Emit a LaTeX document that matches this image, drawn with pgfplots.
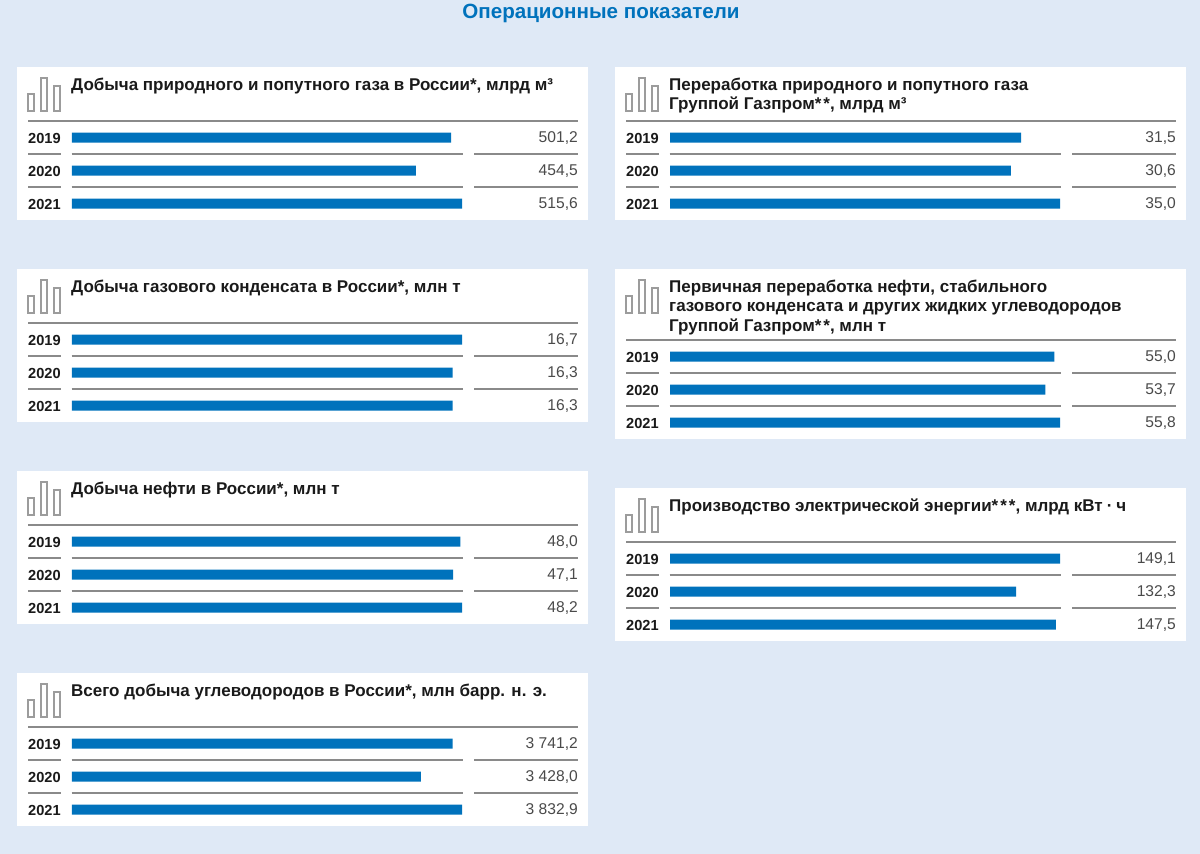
\documentclass[border=0pt]{standalone}
\usepackage{fontspec}
\setmainfont{Liberation Sans}
\usepackage{pgfplots}
\pgfplotsset{compat=1.18}

\definecolor{pagebg}{HTML}{DFE9F6}
\definecolor{barblue}{HTML}{0072BC}
\definecolor{rulegray}{HTML}{8A8A8A}
\definecolor{headtext}{HTML}{1A1A1A}
\definecolor{valtext}{HTML}{4A4A4A}

\newcommand{\valnum}[1]{\pgfmathprintnumber[fixed, fixed zerofill, precision=1, use comma,
  1000 sep={\ }, assume math mode=true]{#1}}
\tikzset{valnode/.style={anchor=east, inner sep=0pt, yshift=-1pt, text=valtext, font=\fontsize{15.6}{16}\selectfont}}

% #1 panel left, #2 panel top, #3 extra height of the title block, #4 title, #5-#7 values 2019-2021
\newcommand{\panel}[7]{%
  \pgfmathsetmacro{\vmax}{max(#5,#6,#7)}%
  \pgfmathsetmacro{\rt}{#2+54+#3}%
  \fill[white] (#1,#2) rectangle ++(571,153+#3);
  % icon
  \begin{scope}[shift={(#1,#2)}, draw=rulegray!85, line width=1.1pt]
    \draw (11,27) rectangle (17,44);
    \draw (24,11) rectangle (30,44);
    \draw (37,19) rectangle (43,44);
  \end{scope}
  \node[anchor=north west, align=left, inner sep=0pt, text=headtext,
        font=\fontsize{17}{19.8}\selectfont\bfseries] at (#1+54,#2+10.5) {#4};
  % rules between the rows
  \begin{scope}[rulegray, line width=1.1pt]
    \draw (#1+11,\rt) -- ++(550,0);
    \foreach \k in {33,66}{
      \draw (#1+11,\rt+\k) -- ++(33,0);
      \draw (#1+54.5,\rt+\k) -- ++(391.5,0);
      \draw (#1+457,\rt+\k) -- ++(104,0);
    }
  \end{scope}
  \coordinate (corner) at (#1+55,\rt);
  \begin{axis}[
      at={(corner)}, anchor=north west,
      scale only axis, width=390pt, height=99pt,
      xbar, bar width=10pt, bar shift=0pt,
      xmin=0, xmax=\vmax,
      ymin=-0.5, ymax=2.5, y dir=reverse,
      clip=false,
      axis line style={draw=none},
      tick style={draw=none}, major tick length=0pt,
      xtick=\empty,
      ytick={0,1,2}, yticklabels={2019,2020,2021},
      yticklabel style={anchor=west, xshift=-44pt, yshift=-0.7pt, inner sep=0pt, text=headtext,
        font=\fontsize{14.6}{14}\selectfont\bfseries},
    ]
    \addplot[fill=barblue, draw=none] coordinates {(#5,0) (#6,1) (#7,2)};
    \node[valnode] at (rel axis cs:1.2974,0.8333) {\valnum{#5}};
    \node[valnode] at (rel axis cs:1.2974,0.5) {\valnum{#6}};
    \node[valnode] at (rel axis cs:1.2974,0.1667) {\valnum{#7}};
  \end{axis}
}

\begin{document}
\begin{tikzpicture}[x=1pt,y=-1pt]
  \path[fill=pagebg, use as bounding box] (0,0) rectangle (1200,854);
  \node[anchor=center, inner sep=0pt, text=barblue, font=\fontsize{20.6}{20.6}\selectfont\bfseries]
    at (601,13) {Операционные показатели};

  \panel{17}{67}{0}{Добыча природного и попутного газа в России*, млрд м³}{501.2}{454.5}{515.6}
  \panel{17}{269}{0}{Добыча газового конденсата в России*, млн т}{16.7}{16.3}{16.3}
  \panel{17}{471}{0}{Добыча нефти в России*, млн т}{48.0}{47.1}{48.2}
  \panel{17}{673}{0}{Всего добыча углеводородов в России*, млн барр. н. э.}{3741.2}{3428.0}{3832.9}

  \panel{615}{67}{0}{Переработка природного и попутного газа\\Группой Газпром*\kern2pt*, млрд м³}{31.5}{30.6}{35.0}
  \panel{615}{269}{17}{Первичная переработка нефти, стабильного\\газового конденсата и других жидких углеводородов\\Группой Газпром*\kern2pt*, млн т}{55.0}{53.7}{55.8}
  \panel{615}{488}{0}{Производство электрической энергии*\kern2pt*\kern2pt*, млрд кВт\kern4pt·\kern4pt ч}{149.1}{132.3}{147.5}
\end{tikzpicture}
\end{document}
